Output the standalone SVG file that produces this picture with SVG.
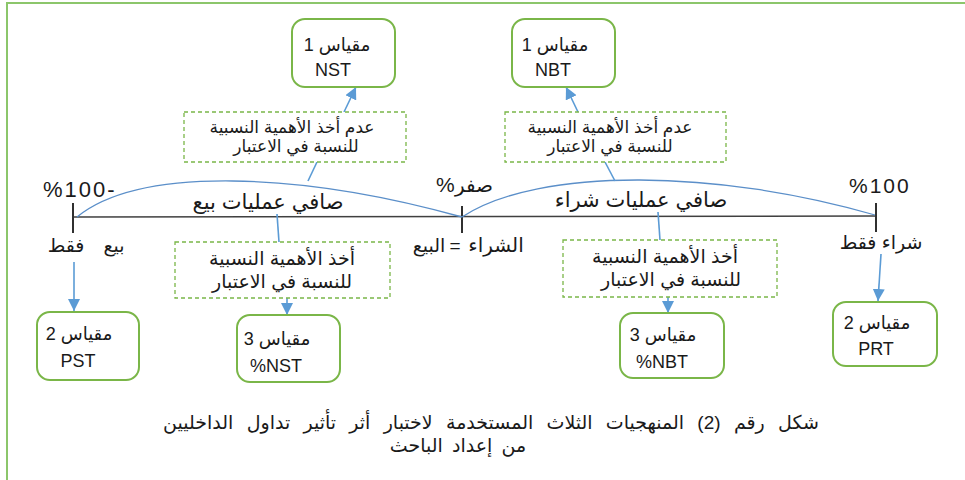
<svg xmlns="http://www.w3.org/2000/svg" width="965" height="480" viewBox="0 0 965 480">
<style>
text{font-family:"Liberation Sans","DejaVu Sans",sans-serif;fill:#1a1a1a}
.ar{direction:rtl;text-anchor:middle}
.lt{text-anchor:middle}
.box{fill:#fff;stroke:#7ab648;stroke-width:2}
.dash{fill:#fff;stroke:#7ab648;stroke-width:1.3;stroke-dasharray:4 3}
.conn{stroke:#5b9bd5;stroke-width:1.6;fill:none}
.arc{stroke:#5b8fc9;stroke-width:1.3;fill:none}
.axis{stroke:#404040;stroke-width:1.5}
.tick{stroke:#303030;stroke-width:2}
.bx{font-size:18px}
.dt{font-size:17px}
.dl{font-size:19px}
</style>
<defs>
<marker id="ah" markerUnits="userSpaceOnUse" markerWidth="14" markerHeight="12" refX="12" refY="6" orient="auto">
<path d="M0,0 L12,6 L0,12 z" fill="#5b9bd5"/>
</marker>
</defs>
<rect width="965" height="480" fill="#fff"/>
<rect x="7" y="3" width="980" height="500" fill="none" stroke="#8cc66b" stroke-width="2"/>

<g id="axis">
<line class="axis" x1="73" y1="217" x2="877" y2="216"/>
<line class="tick" x1="73" y1="203" x2="73" y2="233"/>
<line class="tick" x1="462" y1="206" x2="462" y2="233"/>
<line class="tick" x1="876" y1="203" x2="876" y2="232"/>
<path class="arc" d="M77,217 C140,166 300,172 462,217"/>
<path class="arc" d="M462,217 C540,166 720,170 875,215"/>
<text x="43" y="197" font-size="22" letter-spacing="2">%100-</text>
<text x="849" y="193" font-size="21" letter-spacing="2">%100</text>
<text x="436" y="192" font-size="21">%</text>
<text x="474" y="192" font-size="20" class="ar">صفر</text>
<text x="268" y="209" font-size="21" class="ar">صافي عمليات بيع</text>
<text x="641" y="207" font-size="21" class="ar">صافي عمليات شراء</text>
<text x="66" y="252" font-size="19" class="ar">فقط</text>
<text x="114" y="252" font-size="19" class="ar">بيع</text>
<text x="429" y="252" font-size="19" class="ar">البيع</text>
<text x="455" y="252" font-size="19" class="lt">=</text>
<text x="496" y="252" font-size="20" class="ar">الشراء</text>
<text x="881" y="249" font-size="19" class="ar">شراء فقط</text>
</g>

<g id="connectors">
<line class="conn" x1="308" y1="181" x2="317" y2="162"/>
<line class="conn" x1="344" y1="112" x2="356" y2="87" marker-end="url(#ah)"/>
<line class="conn" x1="615" y1="181" x2="605" y2="162"/>
<line class="conn" x1="578" y1="112" x2="566" y2="87" marker-end="url(#ah)"/>
<line class="conn" x1="277" y1="214" x2="279" y2="242"/>
<line class="conn" x1="287" y1="298" x2="287" y2="315" marker-end="url(#ah)"/>
<line class="conn" x1="658" y1="212" x2="660" y2="240"/>
<line class="conn" x1="668" y1="297" x2="668" y2="313" marker-end="url(#ah)"/>
<line class="conn" x1="74" y1="262" x2="74" y2="311" marker-end="url(#ah)"/>
<line class="conn" x1="881" y1="254" x2="878" y2="301" marker-end="url(#ah)"/>
</g>

<g id="nst">
<rect class="box" x="292" y="19" width="103" height="68" rx="13"/>
<text x="337" y="51" class="ar bx">مقياس 1</text>
<text x="333" y="76" class="lt bx">NST</text>
</g>
<g id="nbt">
<rect class="box" x="512" y="19" width="103" height="68" rx="13"/>
<text x="555" y="51" class="ar bx">مقياس 1</text>
<text x="553" y="76" class="lt bx">NBT</text>
</g>

<g id="dash-ul">
<rect class="dash" x="184" y="112" width="222" height="50"/>
<text x="292" y="133" class="ar dt">عدم أخذ الأهمية النسبية</text>
<text x="296" y="152" class="ar dt">للنسبة في الاعتبار</text>
</g>
<g id="dash-ur">
<rect class="dash" x="505" y="112" width="221" height="50"/>
<text x="610" y="133" class="ar dt">عدم أخذ الأهمية النسبية</text>
<text x="610" y="152" class="ar dt">للنسبة في الاعتبار</text>
</g>
<g id="dash-ll">
<rect class="dash" x="175" y="242" width="215" height="56"/>
<text x="282" y="265" class="ar dl">أخذ الأهمية النسبية</text>
<text x="282" y="288" class="ar dl">للنسبة في الاعتبار</text>
</g>
<g id="dash-lr">
<rect class="dash" x="563" y="240" width="214" height="57"/>
<text x="665" y="263" class="ar dl">أخذ الأهمية النسبية</text>
<text x="671" y="286" class="ar dl">للنسبة في الاعتبار</text>
</g>

<g id="pst">
<rect class="box" x="37" y="312" width="102" height="68" rx="13"/>
<text x="79" y="340" class="ar bx">مقياس 2</text>
<text x="78" y="367" class="lt bx">PST</text>
</g>
<g id="pnst">
<rect class="box" x="237" y="315" width="103" height="67" rx="13"/>
<text x="277" y="345" class="ar bx">مقياس 3</text>
<text x="276" y="372" class="lt bx">%NST</text>
</g>
<g id="pnbt">
<rect class="box" x="620" y="313" width="104" height="65" rx="13"/>
<text x="663" y="341" class="ar bx">مقياس 3</text>
<text x="662" y="368" class="lt bx">%NBT</text>
</g>
<g id="prt">
<rect class="box" x="833" y="302" width="104" height="64" rx="13"/>
<text x="877" y="329" class="ar bx">مقياس 2</text>
<text x="876" y="355" class="lt bx">PRT</text>
</g>

<g id="caption">
<text x="491" y="429" font-size="19" word-spacing="8" class="ar">شكل رقم (2) المنهجيات الثلاث المستخدمة لاختبار أثر تأثير تداول الداخليين</text>
<text x="458" y="452" font-size="19" word-spacing="4" class="ar">من إعداد الباحث</text>
</g>
</svg>
